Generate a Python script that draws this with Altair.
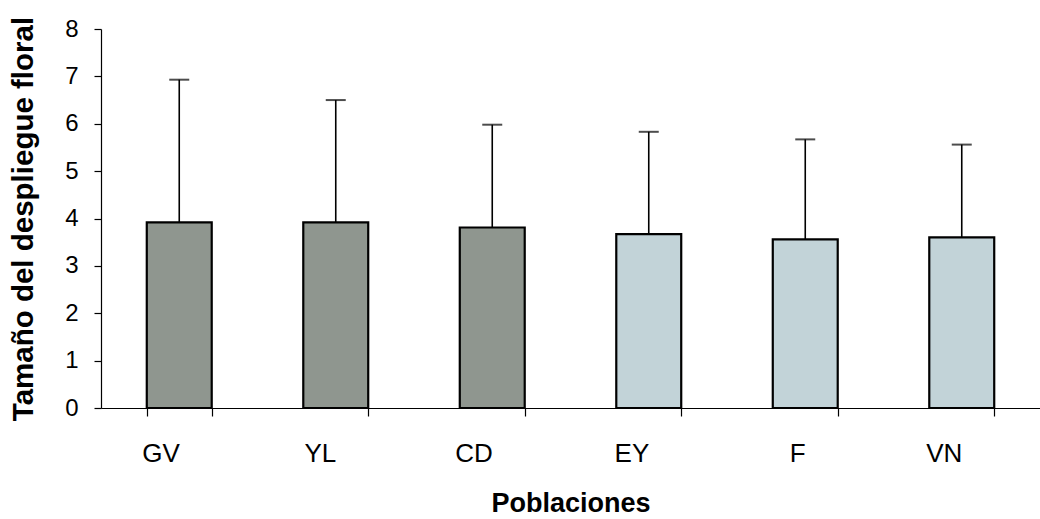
import altair as alt
import pandas as pd

# Floral display size per population (mean and one-sided SD)
poblaciones = ["GV", "YL", "CD", "EY", "F", "VN"]
medias = [3.92, 3.92, 3.81, 3.67, 3.56, 3.60]
desv = [3.01, 2.58, 2.17, 2.16, 2.11, 1.96]
grupos = ["A", "A", "A", "B", "B", "B"]

df = pd.DataFrame({
    "pob": poblaciones,
    "media": medias,
    "sd": desv,
    "grupo": grupos,
})
df["sup"] = df["media"] + df["sd"]

FONT = "Liberation Sans"

x = alt.X(
    "pob:N",
    sort=poblaciones,
    scale=alt.Scale(paddingInner=0.585, paddingOuter=0.2925),
    axis=alt.Axis(
        title="Poblaciones",
        labelAngle=0,
        tickBand="extent",
        tickSize=8,
        labelPadding=37,
        labelFontSize=26,
        titleFontSize=27,
        titleFontWeight="bold",
        titlePadding=24,
    ),
)

y_axis = alt.Axis(
    title="Tamaño del despliegue floral",
    values=list(range(0, 9)),
    tickSize=7,
    labelPadding=16,
    labelFontSize=24,
    titleFontSize=29.5,
    titleFontWeight="bold",
    titlePadding=26,
    grid=False,
)

base = alt.Chart(df)

bars = base.mark_bar(stroke="black", strokeWidth=2.2).encode(
    x=x,
    y=alt.Y("media:Q", scale=alt.Scale(domain=[0, 8], nice=False), axis=y_axis),
    fill=alt.Fill(
        "grupo:N",
        scale=alt.Scale(domain=["A", "B"], range=["#8f968f", "#c2d3d8"]),
        legend=None,
    ),
)

stems = base.mark_rule(color="black", strokeWidth=1.6).encode(
    x=alt.X("pob:N", sort=poblaciones),
    y="media:Q",
    y2="sup:Q",
)

caps = base.mark_tick(color="black", thickness=2, size=20).encode(
    x=alt.X("pob:N", sort=poblaciones),
    y="sup:Q",
)

chart = (
    alt.layer(stems, bars, caps)
    .properties(
        width=939,
        height=379,
        padding={"left": 101, "top": 29, "right": 0, "bottom": 111},
        autosize="none",
        background="white",
    )
    .configure_view(stroke=None)
    .configure_axis(
        domainColor="black",
        tickColor="black",
        labelColor="black",
        titleColor="black",
        labelFont=FONT,
        titleFont=FONT,
        domainWidth=1.2,
        tickWidth=1.2,
    )
)

chart.save("out.html", embed_options={"renderer": "svg", "actions": False})
